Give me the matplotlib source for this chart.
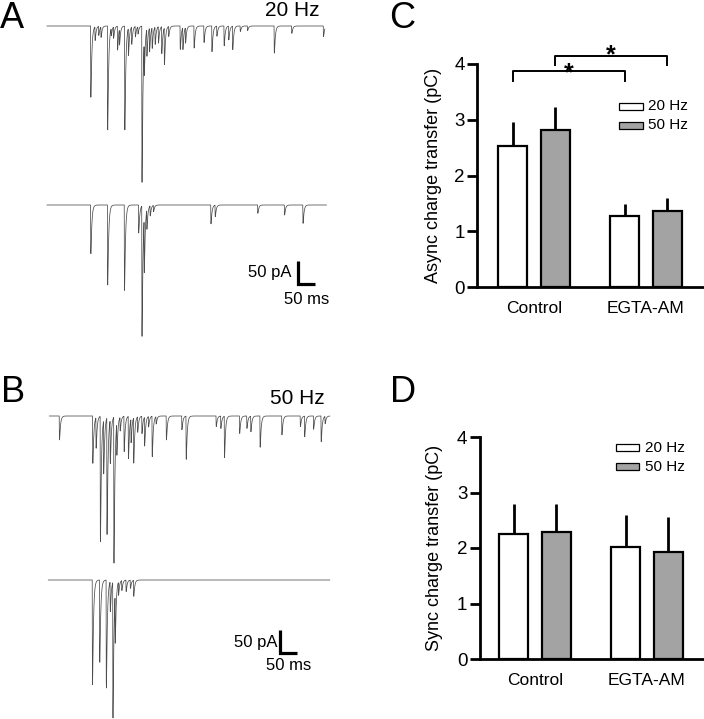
import numpy as np
import matplotlib
matplotlib.use('Agg')
import matplotlib.pyplot as plt
from matplotlib.patches import Rectangle

plt.rcParams['font.family'] = ['Liberation Sans', 'DejaVu Sans']

# --- bar data (pC) ---
groups = ['Control', 'EGTA-AM']
freqs = ['20 Hz', '50 Hz']
async_20 = [2.53, 1.28]
async_20_err = [0.43, 0.20]
async_50 = [2.81, 1.37]
async_50_err = [0.42, 0.23]
sync_20 = [2.25, 2.01]
sync_20_err = [0.55, 0.58]
sync_50 = [2.28, 1.92]
sync_50_err = [0.51, 0.64]

# --- trace events: time (ms), amplitude (pA) ---
a1_t = [132, 145, 156, 163, 183, 194, 201, 213, 219, 235, 246, 256, 267, 275, 287, 294,
        302, 310, 318, 327, 337, 347, 355, 368, 403, 411, 419, 445, 475, 499, 514, 536,
        550, 562, 585, 607, 688, 741, 837]
a1_a = [155, 30, 20, 23, 226, 16, 25, 52, 34, 226, 59, 38, 23, 16, 340, 74,
        59, 52, 45, 38, 36, 59, 80, 22, 51, 48, 34, 48, 36, 56, 22, 43,
        30, 51, 12, 10, 59, 16, 23]
a2_t = [132, 183, 234, 277, 287, 294, 302, 312, 322, 496, 509, 638, 719, 775]
a2_a = [106, 174, 186, 61, 284, 119, 43, 22, 14, 41, 25, 18, 22, 40]
b1_t = [37, 138, 148, 161, 171, 181, 191, 202, 211, 221, 233, 246, 254, 262, 274, 287,
        295, 307, 318, 330, 361, 408, 421, 512, 526, 537, 583, 605, 617, 645, 711, 767,
        780, 807, 830, 842]
b1_a = [52, 103, 67, 273, 117, 254, 95, 318, 70, 30, 77, 92, 52, 99, 34, 38,
        63, 23, 88, 16, 52, 30, 94, 23, 27, 90, 38, 27, 34, 68, 41, 23,
        45, 29, 56, 16]
b2_t = [137, 159, 179, 191, 199, 206, 216, 226, 239, 252, 262]
b2_a = [228, 179, 235, 65, 296, 108, 29, 22, 25, 18, 35]

W, H = 704, 719
fig = plt.figure(figsize=(W / 100, H / 100), dpi=100)

# trace axes: 3.03 ms per px, 2.17 pA per px
msx, pay = 3.03, 2.17
axt = fig.add_axes([0, 0, 352 / W, 1])
axt.set_xlim(-47 * msx, (352 - 47) * msx)
axt.set_ylim(-H * pay, 0)
axt.axis('off')


def trace(t_ev, a_ev, base_px, t0, t1):
    t = np.arange(t0, t1, 0.2)
    y = np.zeros_like(t)
    tr, td = 0.4, 2.8
    tp = tr * td / (td - tr) * np.log(td / tr)
    norm = np.exp(-tp / td) - np.exp(-tp / tr)
    for te, ae in zip(t_ev, a_ev):
        s = t - te
        k = np.where(s > 0, (np.exp(-s / td) - np.exp(-s / tr)) / norm, 0)
        y -= ae * k
    axt.plot(t, y - base_px * pay, color='#4d4d4d', lw=0.55)


trace(a1_t, a1_a, 26, 0, 842)
trace(a2_t, a2_a, 205, 0, 847)
trace(b1_t, b1_a, 416, 7, 857)
trace(b2_t, b2_a, 580, 4, 857)


def scalebar(px, py):
    x0, y0 = (px - 47) * msx, -py * pay
    axt.plot([x0, x0, x0 + 50], [y0 + 50, y0, y0], color='black', lw=2.3,
             solid_capstyle='butt', solid_joinstyle='miter')


scalebar(298, 284)
scalebar(280, 653)


def ftext(x, y, s, **kw):
    fig.text(x / W, 1 - y / H, s, **kw)


ftext(291, 272, '50 pA', ha='right', va='center', fontsize=12)
ftext(307, 300, '50 ms', ha='center', va='center', fontsize=12)
ftext(278, 642, '50 pA', ha='right', va='center', fontsize=12)
ftext(289, 665, '50 ms', ha='center', va='center', fontsize=12)
ftext(292, 11, '20 Hz', ha='center', va='center', fontsize=15)
ftext(297, 398, '50 Hz', ha='center', va='center', fontsize=15)
for lab, x, y in [('A', 0, 19), ('B', 1, 393), ('C', 389, 19), ('D', 390, 392)]:
    ftext(x, y, lab, ha='left', va='center', fontsize=26)

# bar panels
off, bw = 0.19, 0.26
xg = np.arange(len(groups))


def barpanel(rect, v20, e20, v50, e50, ylabel, xl, lab_x, leg):
    ax = fig.add_axes(rect)
    ax.bar(xg - off, v20, bw, color='white', edgecolor='black', lw=1.6, zorder=3)
    ax.bar(xg + off, v50, bw, color='#a3a3a3', edgecolor='black', lw=1.6, zorder=3)
    ax.vlines(xg - off, v20, np.array(v20) + np.array(e20), color='black', lw=2, zorder=2)
    ax.vlines(xg + off, v50, np.array(v50) + np.array(e50), color='black', lw=2, zorder=2)
    ax.set_xlim(*xl)
    ax.set_ylim(0, 4)
    ax.set_yticks([0, 1, 2, 3, 4])
    ax.set_xticks(xg)
    ax.set_xticklabels(groups, fontsize=12.5)
    ax.tick_params(axis='x', length=0, pad=10)
    ax.tick_params(axis='y', length=7, width=2, labelsize=13.5, pad=2)
    for s in ['top', 'right']:
        ax.spines[s].set_visible(False)
    for s in ['left', 'bottom']:
        ax.spines[s].set_linewidth(2)
    ax.set_ylabel(ylabel, fontsize=13)
    ax.yaxis.set_label_coords(lab_x, 0.5)
    lx0, lx1, tx, rows = leg
    for (yb, yt), fc, txt in zip(rows, ['white', '#a3a3a3'], freqs):
        ax.add_patch(Rectangle((lx0, yb), lx1 - lx0, yt - yb, transform=ax.transAxes,
                               facecolor=fc, edgecolor='black', lw=0.9, clip_on=False))
        ax.text(tx, (yb + yt) / 2, txt, transform=ax.transAxes, fontsize=11,
                ha='left', va='center')
    return ax


axc = barpanel([477 / W, 1 - 287 / H, 226 / W, 223 / H], async_20, async_20_err,
               async_50, async_50_err, 'Async charge transfer (pC)', (-0.51, 1.51), -0.155,
               (0.628, 0.735, 0.757, [(0.794, 0.825), (0.709, 0.740)]))
axd = barpanel([480 / W, 1 - 659 / H, 223 / W, 222 / H], sync_20, sync_20_err,
               sync_50, sync_50_err, 'Sync charge transfer (pC)', (-0.49, 1.50), -0.166,
               (0.610, 0.713, 0.740, [(0.937, 0.968), (0.851, 0.883)]))

# significance brackets on C
for xa, xb, yh, yl, ys in [(-off, 1 - off, 3.87, 3.69, 3.70), (off, 1 + off, 4.15, 3.98, 4.03)]:
    axc.plot([xa, xa, xb, xb], [yl, yh, yh, yl], color='black', lw=1.4, clip_on=False)
    axc.text((xa + xb) / 2, ys, '*', ha='center', va='baseline', fontsize=18,
             fontweight='bold')

fig.savefig('out.png', dpi=100)
